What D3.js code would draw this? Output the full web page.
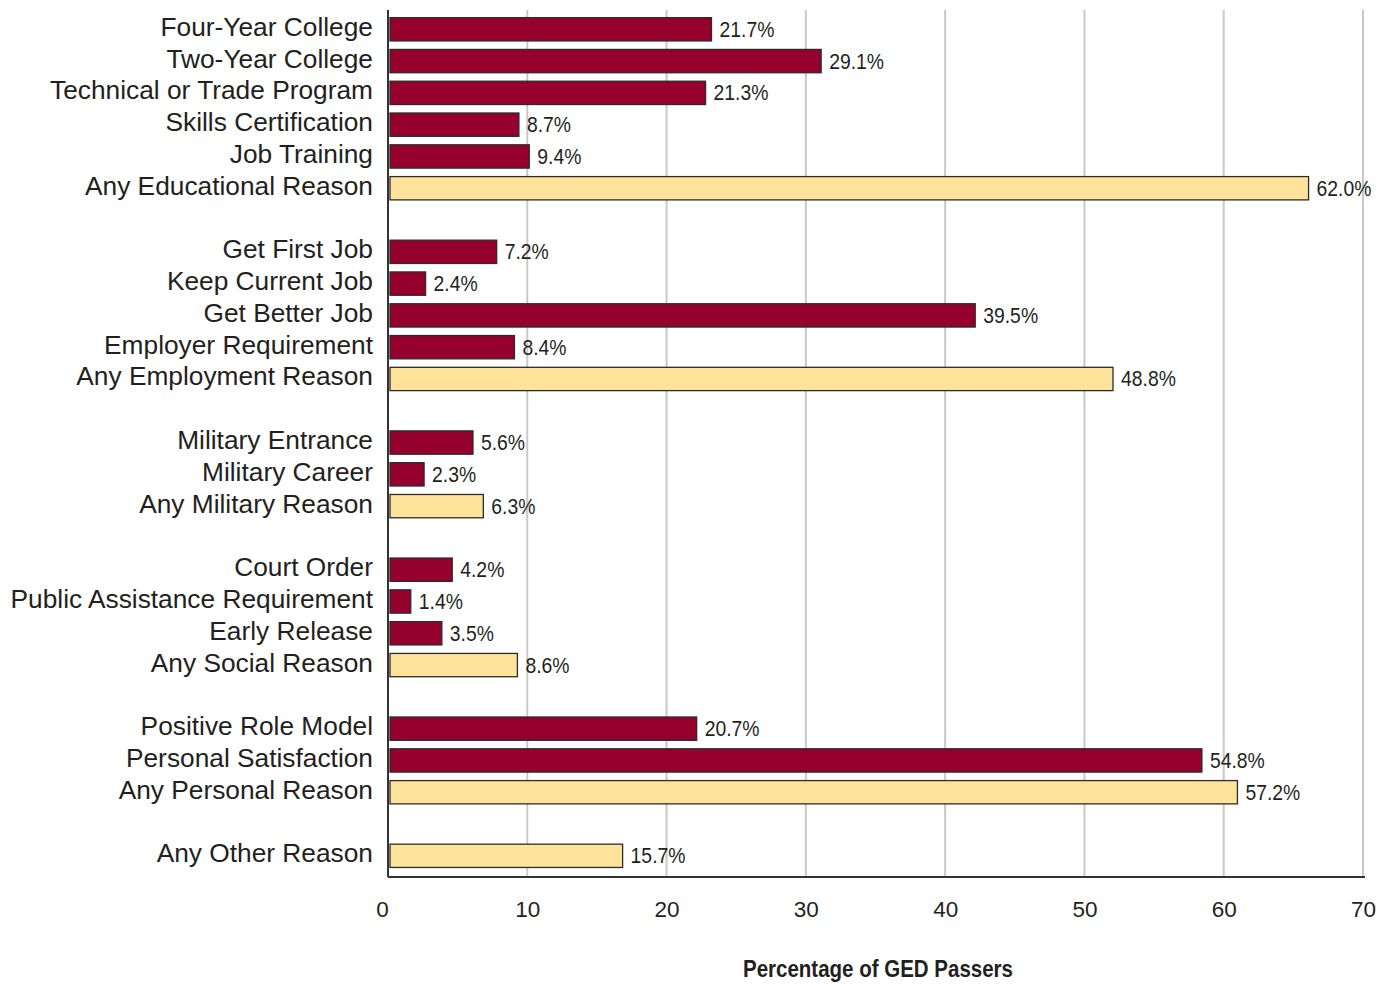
<!DOCTYPE html>
<html>
<head>
<meta charset="utf-8">
<script src="https://cdn.jsdelivr.net/npm/d3@7"></script>
<style>
  html, body { margin: 0; padding: 0; background: #ffffff; }
  svg { display: block; }
  text { font-family: "Liberation Sans", Arial, Helvetica, sans-serif; fill: #231f20; }
</style>
</head>
<body>
<svg id="chart" width="1391" height="984"></svg>
<script>
// Reasons for taking the GED tests, grouped by type; "Any ..." rows are group totals.
const categories = [
  "Four-Year College", "Two-Year College", "Technical or Trade Program",
  "Skills Certification", "Job Training", "Any Educational Reason",
  "Get First Job", "Keep Current Job", "Get Better Job",
  "Employer Requirement", "Any Employment Reason",
  "Military Entrance", "Military Career", "Any Military Reason",
  "Court Order", "Public Assistance Requirement", "Early Release", "Any Social Reason",
  "Positive Role Model", "Personal Satisfaction", "Any Personal Reason",
  "Any Other Reason"
];
const values = [
  21.7, 29.1, 21.3, 8.7, 9.4, 62.0,
  7.2, 2.4, 39.5, 8.4, 48.8,
  5.6, 2.3, 6.3,
  4.2, 1.4, 3.5, 8.6,
  20.7, 54.8, 57.2,
  15.7
];
const groupIndex = [
  0, 0, 0, 0, 0, 0,
  1, 1, 1, 1, 1,
  2, 2, 2,
  3, 3, 3, 3,
  4, 4, 4,
  5
];
const axisTicks = [0, 10, 20, 30, 40, 50, 60, 70];
const axisTitle = "Percentage of GED Passers";

const rows = categories.map((name, i) => ({
  name,
  value: values[i],
  slot: i + groupIndex[i],          // one empty slot between groups
  summary: name.startsWith("Any ")
}));
const slotCount = d3.max(rows, d => d.slot) + 1;

const svg = d3.select("#chart");

const plotLeft = 388, plotRight = 1363, plotTop = 10, plotBottom = 877;

// Axis / gridline scale
const x = d3.scaleLinear().domain([0, 70]).range([plotLeft, plotRight]);
// Bar length scale
const xBar = d3.scaleLinear().domain([0, 65]).range([390, 1353]);

const y = d3.scaleBand()
  .domain(d3.range(slotCount))
  .range([13.4, 871.7])
  .paddingInner(0.267)
  .paddingOuter(0.1335);

// Vertical gridlines
svg.append("g")
  .selectAll("line")
  .data(axisTicks.filter(t => t > 0))
  .join("line")
  .attr("x1", d => x(d)).attr("x2", d => x(d))
  .attr("y1", plotTop).attr("y2", plotBottom)
  .attr("stroke", "#c9c9c9")
  .attr("stroke-width", 2);

// Bars
svg.append("g")
  .selectAll("rect")
  .data(rows)
  .join("rect")
  .attr("x", xBar(0))
  .attr("y", d => y(d.slot))
  .attr("width", d => xBar(d.value) - xBar(0))
  .attr("height", y.bandwidth())
  .attr("fill", d => d.summary ? "#ffe39b" : "#96002f")
  .attr("stroke", "#2b2b2b")
  .attr("stroke-width", 1.3);

// Value labels, horizontally condensed
svg.append("g")
  .selectAll("text")
  .data(rows)
  .join("text")
  .attr("transform", d => `translate(${xBar(d.value) + 8},${y(d.slot) + y.bandwidth() / 2 + 7.5}) scale(0.88,1)`)
  .attr("font-size", 22)
  .text(d => d.value.toFixed(1) + "%");

// Category labels
svg.append("g")
  .selectAll("text")
  .data(rows)
  .join("text")
  .attr("x", 373)
  .attr("y", d => y(d.slot) + y.bandwidth() / 2 + 6.5)
  .attr("text-anchor", "end")
  .attr("font-size", 26.3)
  .text(d => d.name);

// Bottom axis with tick labels only
const xAxis = svg.append("g")
  .attr("transform", `translate(0,${plotBottom})`)
  .call(d3.axisBottom(x).tickValues(axisTicks).tickSize(0).tickPadding(24).tickFormat(d3.format("d")));
xAxis.select(".domain").remove();
xAxis.selectAll("text")
  .attr("font-size", 22.5)
  .attr("font-family", "'Liberation Sans', Arial, sans-serif")
  .attr("fill", "#231f20")
  .attr("dx", d => d === 0 ? -6 : 0);

// Axis lines
svg.append("line")
  .attr("x1", plotLeft).attr("x2", plotRight + 2)
  .attr("y1", plotBottom).attr("y2", plotBottom)
  .attr("stroke", "#333").attr("stroke-width", 2);
svg.append("line")
  .attr("x1", plotLeft).attr("x2", plotLeft)
  .attr("y1", plotTop).attr("y2", plotBottom)
  .attr("stroke", "#333").attr("stroke-width", 2);

// Axis title
svg.append("text")
  .attr("x", 878)
  .attr("y", 977)
  .attr("text-anchor", "middle")
  .attr("font-size", 24)
  .attr("font-weight", "bold")
  .attr("textLength", 270)
  .attr("lengthAdjust", "spacingAndGlyphs")
  .text(axisTitle);
</script>
</body>
</html>
